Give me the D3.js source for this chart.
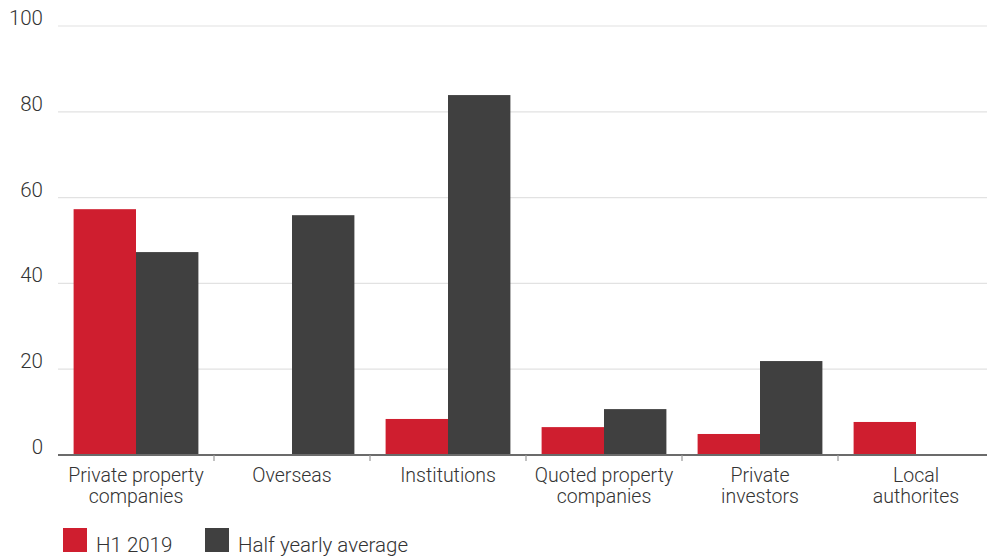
<!DOCTYPE html>
<html lang="en">
<head>
	<meta charset="UTF-8">
	<title>Investors</title>
	<script src="https://cdn.jsdelivr.net/npm/d3@7"></script>
	<style>
		body{ margin:0; background:#fff; }
		svg{ display:block; font-family:Roboto, "Open Sans", sans-serif; font-weight:300; }
	</style>
</head>
<body>
	<svg id="svg" width="987" height="559"></svg>
	<script>
		var categories = [["Private property","companies"],["Overseas"],["Institutions"],["Quoted property","companies"],["Private","investors"],["Local","authorites"]];
		var h1_2019 = [57.3, 0, 8.4, 6.5, 4.9, 7.7];
		var halfYearly = [47.3, 55.9, 83.9, 10.7, 21.9, 0];
		var yTicks = [0, 20, 40, 60, 80, 100];
		var seriesNames = ["H1 2019", "Half yearly average"];
		var colors = ["#cf1e2f", "#404040"];

		var svg = d3.select("svg"),
			plotL = 58, plotR = 994, plotT = 26, plotB = 455;

		var x = d3.scaleBand().domain(d3.range(categories.length)).range([plotL, plotR]);
		var xs = d3.scaleBand().domain([0,1]).range([0, x.bandwidth()]).paddingOuter(0.25).paddingInner(0);
		var y = d3.scaleLinear().domain([0,100]).range([plotB, plotT]);

		// gridlines + labels
		var g = svg.append("g");
		yTicks.forEach(function(t){
			if(t > 0){
				g.append("line").attr("x1", plotL).attr("x2", 987)
					.attr("y1", y(t)).attr("y2", y(t))
					.attr("stroke", "#e2e2e2").attr("stroke-width", 1.2);
			}
			g.append("text").attr("x", 43).attr("y", y(t) - 1)
				.attr("text-anchor", "end").attr("font-size", 20.5).attr("fill", "#333")
				.text(t);
		});

		var data = categories.map(function(c, i){ return [h1_2019[i], halfYearly[i]]; });

		var grp = svg.selectAll("g.cat").data(data).enter().append("g")
			.attr("class", "cat")
			.attr("transform", function(d, i){ return "translate(" + x(i) + ",0)"; });
		grp.selectAll("rect").data(function(d){ return d; }).enter().append("rect")
			.attr("x", function(d, j){ return xs(j); })
			.attr("width", xs.bandwidth())
			.attr("y", function(d){ return y(d); })
			.attr("height", function(d){ return plotB - y(d); })
			.attr("fill", function(d, j){ return colors[j]; });

		// baseline and separators
		svg.append("line").attr("x1", plotL).attr("x2", 987).attr("y1", plotB).attr("y2", plotB)
			.attr("stroke", "#6b6b6b").attr("stroke-width", 2);
		d3.range(1, categories.length).forEach(function(i){
			svg.append("line").attr("x1", x(i)).attr("x2", x(i))
				.attr("y1", plotB).attr("y2", plotB + 6)
				.attr("stroke", "#999").attr("stroke-width", 1.2);
		});

		// category labels
		categories.forEach(function(lines, i){
			var t = svg.append("text").attr("text-anchor", "middle")
				.attr("font-size", 19.5).attr("fill", "#333");
			lines.forEach(function(l, k){
				t.append("tspan").attr("x", x(i) + x.bandwidth()/2)
					.attr("y", 482 + k*21).text(l);
			});
		});

		// legend
		var lx = [63, 205];
		seriesNames.forEach(function(n, i){
			svg.append("rect").attr("x", lx[i]).attr("y", 528).attr("width", 24).attr("height", 24)
				.attr("fill", colors[i]);
			svg.append("text").attr("x", lx[i] + 33).attr("y", 552)
				.attr("font-size", 20.5).attr("fill", "#333").text(n);
		});
	</script>
</body>
</html>
